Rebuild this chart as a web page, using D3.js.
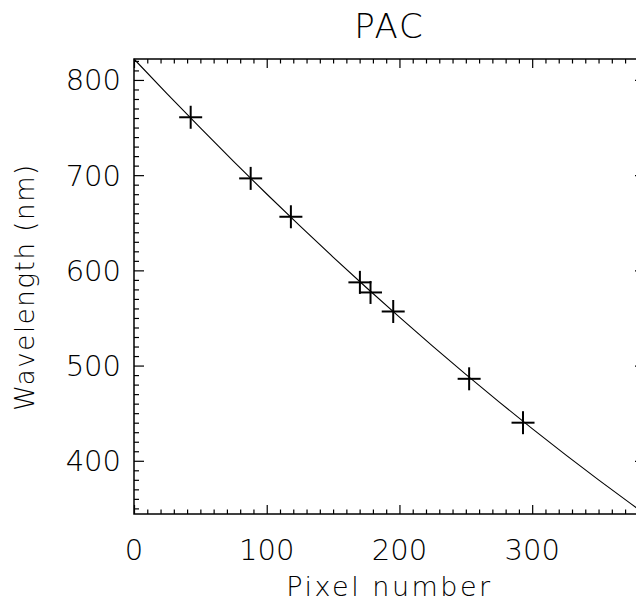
<!DOCTYPE html>
<html>
<head>
<meta charset="utf-8">
<script src="https://d3js.org/d3.v7.min.js"></script>
<style>
  body { margin: 0; background: #fff; overflow: hidden; }
  text { font-family: "DejaVu Sans", sans-serif; font-weight: 200; fill: #000; }
</style>
</head>
<body>
<div id="chart"></div>
<script>
// measured calibration lines (pixel, wavelength in nm)
const linePixels = [42.7, 87.9, 118.2, 170.2, 178.2, 195.3, 252.5, 293.1];
const lineWaves  = [760.8, 696.6, 656.3, 587.4, 576.8, 556.8, 486.1, 440.0];

// fitted dispersion curve
const fitPixels = [0, 25, 50, 75, 100, 125, 150, 175, 200, 225, 250, 275, 300, 325, 350, 375, 385];
const fitWaves  = [822.0, 785.4, 749.6, 714.5, 680.2, 646.7, 614.0, 582.0, 550.8, 520.4, 490.8, 461.9, 433.8, 406.5, 380.0, 354.2, 344.1];

const xTicks = [0, 100, 200, 300];
const yTicks = [400, 500, 600, 700, 800];

const W = 636, H = 602;
// set the dimensions and margins of the graph
const margin = {top: 59, left: 134},
    width = 511,
    height = 455;

const svg = d3.select("#chart").append("svg")
    .attr("width", W)
    .attr("height", H);

const canvas = svg.append("g")
    .attr("transform", "translate(" + margin.left + "," + margin.top + ")");

const x = d3.scaleLinear().domain([0, 385]).range([0, width]);
const y = d3.scaleLinear().domain([344.1, 822]).range([height, 0]);

const xMinor = d3.range(10, 385, 10).filter(d => d % 100 !== 0);
const yMinor = d3.range(350, 822, 10).filter(d => d % 100 !== 0);

// bottom axis
canvas.append("g")
    .attr("transform", "translate(0," + height + ")")
    .call(d3.axisTop(x).tickValues(xTicks).tickSize(9).tickFormat(""))
    .call(g => g.select(".domain").remove());
canvas.append("g")
    .attr("transform", "translate(0," + height + ")")
    .call(d3.axisTop(x).tickValues(xMinor).tickSize(4.5).tickFormat(""))
    .call(g => g.select(".domain").remove());

// top axis
canvas.append("g")
    .call(d3.axisBottom(x).tickValues(xTicks).tickSize(9).tickFormat(""))
    .call(g => g.select(".domain").remove());
canvas.append("g")
    .call(d3.axisBottom(x).tickValues(xMinor).tickSize(4.5).tickFormat(""))
    .call(g => g.select(".domain").remove());

// left axis
canvas.append("g")
    .call(d3.axisRight(y).tickValues(yTicks).tickSize(10).tickFormat(""))
    .call(g => g.select(".domain").remove());
canvas.append("g")
    .call(d3.axisRight(y).tickValues(yMinor).tickSize(5).tickFormat(""))
    .call(g => g.select(".domain").remove());

// right axis
canvas.append("g")
    .attr("transform", "translate(" + width + ",0)")
    .call(d3.axisLeft(y).tickValues(yTicks).tickSize(10).tickFormat(""))
    .call(g => g.select(".domain").remove());
canvas.append("g")
    .attr("transform", "translate(" + width + ",0)")
    .call(d3.axisLeft(y).tickValues(yMinor).tickSize(5).tickFormat(""))
    .call(g => g.select(".domain").remove());

canvas.selectAll(".tick line").attr("stroke", "#000").attr("stroke-width", 1.2);

// frame
canvas.append("rect")
    .attr("width", width)
    .attr("height", height)
    .attr("fill", "none")
    .attr("stroke", "#000")
    .attr("stroke-width", 1.5);

// tick labels
canvas.selectAll(".xlab")
    .data(xTicks)
    .join("text")
    .attr("x", d => x(d))
    .attr("y", height + 46)
    .attr("text-anchor", "middle")
    .style("font-size", "29px")
    .text(d => d);

canvas.selectAll(".ylab")
    .data(yTicks)
    .join("text")
    .attr("x", -13)
    .attr("y", d => y(d))
    .attr("dy", "0.36em")
    .attr("text-anchor", "end")
    .style("font-size", "29px")
    .text(d => d);

// fit curve
canvas.append("path")
    .datum(fitPixels.map((p, i) => ({p: p, w: fitWaves[i]})))
    .attr("fill", "none")
    .attr("stroke", "#000")
    .attr("stroke-width", 1.1)
    .attr("d", d3.line()
        .curve(d3.curveMonotoneX)
        .x(d => x(d.p))
        .y(d => y(d.w)));

// measured lines as plus symbols
const s = 11.5;
const pts = canvas.selectAll(".pt")
    .data(linePixels.map((p, i) => ({p: p, w: lineWaves[i]})))
    .join("g")
    .attr("transform", d => "translate(" + x(d.p) + "," + y(d.w) + ")");
pts.append("line").attr("x1", -s).attr("x2", s).attr("stroke", "#000").attr("stroke-width", 2);
pts.append("line").attr("y1", -s).attr("y2", s).attr("stroke", "#000").attr("stroke-width", 2);

// titles
svg.append("text")
    .attr("x", margin.left + width / 2)
    .attr("y", 38)
    .attr("text-anchor", "middle")
    .style("font-size", "34px")
    .style("letter-spacing", "2px")
    .text("PAC");

svg.append("text")
    .attr("x", margin.left + width / 2)
    .attr("y", 596)
    .attr("text-anchor", "middle")
    .style("font-size", "27px")
    .style("letter-spacing", "2.5px")
    .text("Pixel number");

svg.append("text")
    .attr("transform", "translate(34,287) rotate(-90)")
    .attr("text-anchor", "middle")
    .style("font-size", "26px")
    .style("letter-spacing", "1.6px")
    .text("Wavelength (nm)");
</script>
</body>
</html>
